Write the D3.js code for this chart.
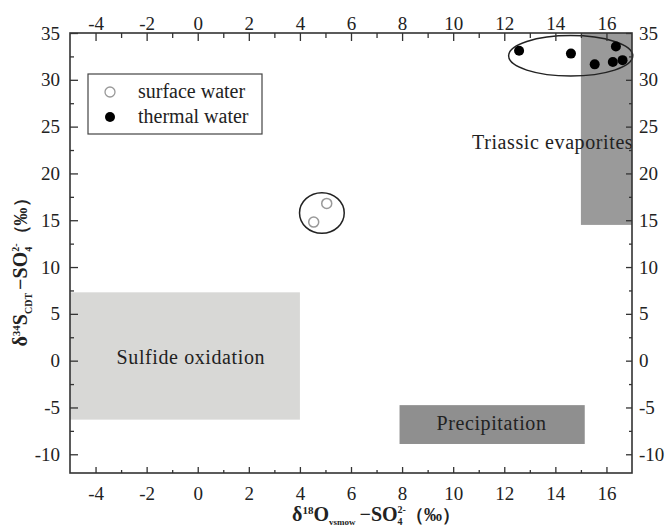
<!DOCTYPE html>
<html>
<head>
<meta charset="utf-8">
<script src="https://cdn.jsdelivr.net/npm/d3@7"></script>
<style>
  body { margin: 0; background: #fff; }
  text { font-family: "Liberation Serif", "Times New Roman", serif; fill: #222; }
</style>
</head>
<body>
<div id="chart"></div>
<script>
'use strict';

// ---------- data ---------- //
var surfaceX = [5.05, 4.54];
var surfaceY = [16.8, 14.8];

var thermalX = [12.58, 14.61, 15.54, 16.37, 16.25, 16.63];
var thermalY = [33.1, 32.8, 31.65, 33.55, 31.9, 32.1];

var regionNames = ['Sulfide oxidation', 'Precipitation', 'Triassic evaporites'];
var regionX0 = [-5, 7.9, 15];
var regionX1 = [4, 15.15, 17];
var regionY0 = [-6.3, -8.9, 14.5];
var regionY1 = [7.3, -4.75, 35];

// encircled groups (centre and half-axes, data units)
var groupCx = [14.6, 4.86];
var groupCy = [32.56, 15.77];
var groupRx = [2.43, 0.875];
var groupRy = [2.16, 2.17];

var xTicks = [-4, -2, 0, 2, 4, 6, 8, 10, 12, 14, 16];
var xMinor = [-3, -1, 1, 3, 5, 7, 9, 11, 13, 15];
var yTicks = [-10, -5, 0, 5, 10, 15, 20, 25, 30, 35];
var yMinor = [-7.5, -2.5, 2.5, 7.5, 12.5, 17.5, 22.5, 27.5, 32.5];

var legendLabels = ['surface water', 'thermal water'];

// ---------- layout ---------- //
var width = 670;
var height = 530;
var pL = 70, pR = 632, pT = 33, pB = 473;

var regionFill = ['#d8d8d6', '#8f8f8f', '#9a9a9a'];
var regionLabelAt = [[-0.27, -0.4, 'middle'], [11.5, -7.45, 'middle'], [17.05, 22.6, 'end']];

var x = d3.scaleLinear().domain([-5, 17]).range([pL, pR]);
var y = d3.scaleLinear().domain([-12, 35]).range([pB, pT]);

var svg = d3.select('#chart').append('svg')
  .attr('width', width)
  .attr('height', height);

// regions
var regions = regionNames.map(function (n, i) {
  return { name: n, x0: regionX0[i], x1: regionX1[i], y0: regionY0[i], y1: regionY1[i], i: i };
});

svg.selectAll('rect.region').data(regions).enter().append('rect')
  .attr('class', 'region')
  .attr('x', function (d) { return x(d.x0); })
  .attr('y', function (d) { return y(d.y1); })
  .attr('width', function (d) { return x(d.x1) - x(d.x0); })
  .attr('height', function (d) { return y(d.y0) - y(d.y1); })
  .attr('fill', function (d) { return regionFill[d.i]; });

svg.selectAll('text.region').data(regions).enter().append('text')
  .attr('class', 'region')
  .attr('x', function (d) { return x(regionLabelAt[d.i][0]); })
  .attr('y', function (d) { return y(regionLabelAt[d.i][1]); })
  .attr('text-anchor', function (d) { return regionLabelAt[d.i][2]; })
  .style('font-size', '20px')
  .style('letter-spacing', '0.6px')
  .text(function (d) { return d.name; });

// group ellipses
svg.selectAll('ellipse').data(groupCx).enter().append('ellipse')
  .attr('cx', function (d) { return x(d); })
  .attr('cy', function (d, i) { return y(groupCy[i]); })
  .attr('rx', function (d, i) { return x(d + groupRx[i]) - x(d); })
  .attr('ry', function (d, i) { return y(groupCy[i] - groupRy[i]) - y(groupCy[i]); })
  .attr('fill', 'none')
  .attr('stroke', '#222')
  .attr('stroke-width', 1.5);

// points
svg.selectAll('circle.surface').data(surfaceX).enter().append('circle')
  .attr('class', 'surface')
  .attr('cx', function (d) { return x(d); })
  .attr('cy', function (d, i) { return y(surfaceY[i]); })
  .attr('r', 5)
  .attr('fill', '#fff')
  .attr('stroke', '#999')
  .attr('stroke-width', 1.5);

svg.selectAll('circle.thermal').data(thermalX).enter().append('circle')
  .attr('class', 'thermal')
  .attr('cx', function (d) { return x(d); })
  .attr('cy', function (d, i) { return y(thermalY[i]); })
  .attr('r', 5)
  .attr('fill', '#000');

// ---------- axes (ticks point inward) ---------- //
function styleAxis(g) {
  g.select('.domain').remove();
  g.selectAll('line').attr('stroke', '#333').attr('stroke-width', 1.3);
  g.selectAll('text').style('font-size', '19px').attr('fill', '#222')
    .style('font-family', '"Liberation Serif", "Times New Roman", serif');
}
var fmt = function (d) { return String(d); };

svg.append('g').attr('transform', 'translate(0,' + pB + ')')
  .call(d3.axisBottom(x).tickValues(xTicks).tickFormat(fmt).tickSize(-6).tickPadding(14)).call(styleAxis);
svg.append('g').attr('transform', 'translate(0,' + pB + ')')
  .call(d3.axisBottom(x).tickValues(xMinor).tickFormat('').tickSize(-3)).call(styleAxis);

svg.append('g').attr('transform', 'translate(0,' + pT + ')')
  .call(d3.axisTop(x).tickValues(xTicks).tickFormat(fmt).tickSize(-8).tickPadding(3)).call(styleAxis);
svg.append('g').attr('transform', 'translate(0,' + pT + ')')
  .call(d3.axisTop(x).tickValues(xMinor).tickFormat('').tickSize(-5)).call(styleAxis);

svg.append('g').attr('transform', 'translate(' + pL + ',0)')
  .call(d3.axisLeft(y).tickValues(yTicks).tickFormat(fmt).tickSize(-8).tickPadding(10)).call(styleAxis);
svg.append('g').attr('transform', 'translate(' + pL + ',0)')
  .call(d3.axisLeft(y).tickValues(yMinor).tickFormat('').tickSize(-4)).call(styleAxis);

svg.append('g').attr('transform', 'translate(' + pR + ',0)')
  .call(d3.axisRight(y).tickValues(yTicks).tickFormat(fmt).tickSize(-6).tickPadding(7)).call(styleAxis);
svg.append('g').attr('transform', 'translate(' + pR + ',0)')
  .call(d3.axisRight(y).tickValues(yMinor).tickFormat('').tickSize(-3)).call(styleAxis);

// frame
svg.append('rect')
  .attr('x', pL).attr('y', pT)
  .attr('width', pR - pL).attr('height', pB - pT)
  .attr('fill', 'none').attr('stroke', '#333').attr('stroke-width', 1.6);

// ---------- legend ---------- //
var legend = svg.append('g').attr('transform', 'translate(88,74)');
legend.append('rect').attr('width', 174).attr('height', 60)
  .attr('fill', '#fff').attr('stroke', '#444').attr('stroke-width', 1.2);
legendLabels.forEach(function (l, i) {
  var row = legend.append('g').attr('transform', 'translate(0,' + (18 + i * 25) + ')');
  row.append('circle').attr('cx', 22).attr('cy', 0).attr('r', 5)
    .attr('fill', i === 0 ? '#fff' : '#000')
    .attr('stroke', i === 0 ? '#999' : 'none').attr('stroke-width', 1.3);
  row.append('text').attr('x', 50).attr('y', 6)
    .style('font-size', '20px').text(l);
});

// ---------- axis titles ---------- //
var xt = svg.append('text')
  .attr('x', 376).attr('y', 521)
  .attr('text-anchor', 'middle')
  .style('font-size', '20px').style('font-weight', 'bold');
xt.append('tspan').text('δ');
xt.append('tspan').attr('dy', -7).style('font-size', '11px').text('18');
xt.append('tspan').attr('dy', 7).text('O');
xt.append('tspan').attr('dy', 4).style('font-size', '9px').text('vsmow');
xt.append('tspan').attr('dy', -4).attr('dx', 4).text('−SO');
xt.append('tspan').attr('dy', 4).style('font-size', '10px').text('4');
xt.append('tspan').attr('dy', -12).attr('dx', -5).style('font-size', '10px').text('2-');
xt.append('tspan').attr('dy', 8).style('font-size', '18px').text('（‰）');

var yt = svg.append('text')
  .attr('transform', 'translate(27,268) rotate(-90)')
  .attr('text-anchor', 'middle')
  .style('font-size', '20px').style('font-weight', 'bold');
yt.append('tspan').text('δ');
yt.append('tspan').attr('dy', -7).style('font-size', '11px').text('34');
yt.append('tspan').attr('dy', 7).text('S');
yt.append('tspan').attr('dy', 5).style('font-size', '10px').text('CDT');
yt.append('tspan').attr('dy', -5).attr('dx', 3).text('−SO');
yt.append('tspan').attr('dy', 5).style('font-size', '10px').text('4');
yt.append('tspan').attr('dy', -13).attr('dx', -5).style('font-size', '10px').text('2-');
yt.append('tspan').attr('dy', 8).style('font-size', '18px').text('（‰）');
</script>
</body>
</html>
